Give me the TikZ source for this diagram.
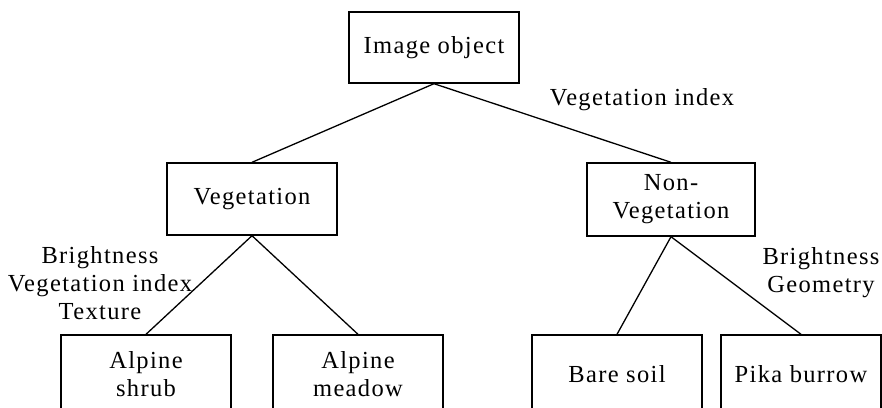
\documentclass[tikz,border=0pt]{standalone}
\usepackage{fontspec}
\setmainfont{Liberation Serif}[LetterSpace=5.5]
\tikzset{
  box/.style={draw, line width=1.4pt, align=center, inner sep=0pt},
  lbl/.style={align=center, inner sep=0pt},
}
\begin{document}
\begin{tikzpicture}[x=1pt, y=-1pt, line width=1.3pt, font=\fontsize{24.5}{28}\selectfont]
      \useasboundingbox (0,0) rectangle (882,407);
      \clip (0,0) rectangle (882,407);
      \node [box, minimum width=170, minimum height=71] (img) at (434,47.5) {Image object};
      \node [box, minimum width=170, minimum height=72] (veg) at (252,199) {Vegetation};
      \node [box, minimum width=168, minimum height=73] (nonveg) at (671,199.5) {Non-\\Vegetation};
      \node [box, minimum width=170, minimum height=78] (shrub) at (146,374) {Alpine\\shrub};
      \node [box, minimum width=170, minimum height=78] (meadow) at (358,374) {Alpine\\meadow};
      \node [box, minimum width=170, minimum height=78] (soil) at (617,374) {Bare soil};
      \node [box, minimum width=160, minimum height=78] (pika) at (801,374) {Pika burrow};
      \node [lbl] (vi) at (642,100) {Vegetation index};
      \node [lbl] (bvt) at (100,283) {Brightness\\Vegetation index\\Texture};
      \node [lbl] (bg) at (821,273) {Brightness\\Geometry};
      \draw (img.south) -- (veg.north);
      \draw (img.south) -- (nonveg.north);
      \draw (veg.south) -- (shrub.north);
      \draw (veg.south) -- (meadow.north);
      \draw (nonveg.south) -- (soil.north);
      \draw (nonveg.south) -- (pika.north);
    \end{tikzpicture}
\end{document}
